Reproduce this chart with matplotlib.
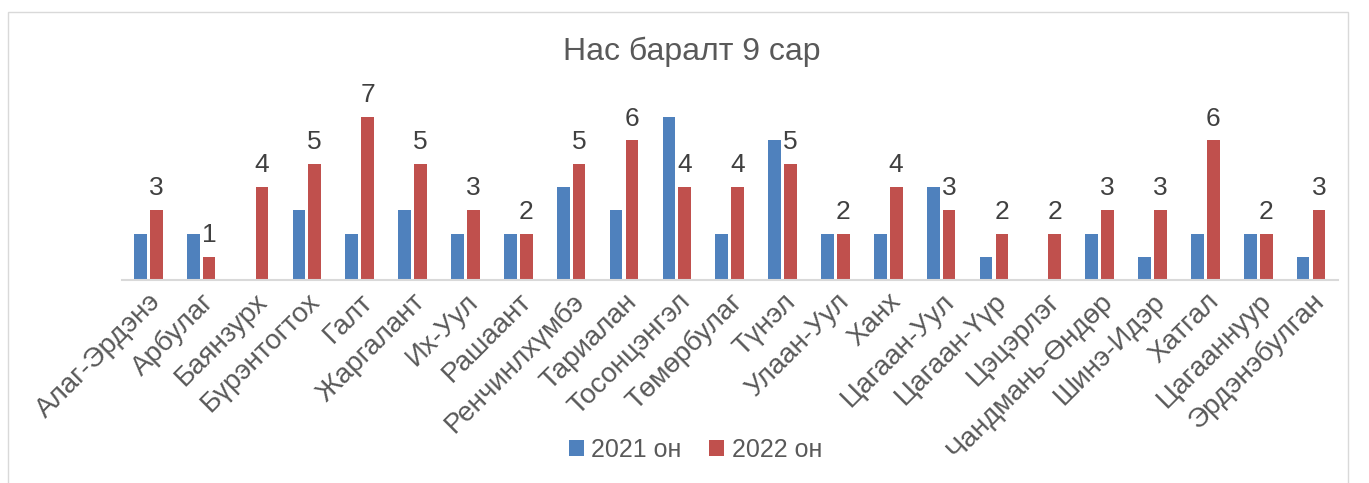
import matplotlib.pyplot as plt
import numpy as np
from matplotlib.patches import Rectangle

plt.rcParams['font.family'] = ['Liberation Sans', 'DejaVu Sans']

categories = ['Алаг-Эрдэнэ', 'Арбулаг', 'Баянзурх', 'Бүрэнтогтох', 'Галт', 'Жаргалант',
              'Их-Уул', 'Рашаант', 'Ренчинлхүмбэ', 'Тариалан', 'Тосонцэнгэл', 'Төмөрбулаг',
              'Түнэл', 'Улаан-Уул', 'Ханх', 'Цагаан-Уул', 'Цагаан-Үүр', 'Цэцэрлэг',
              'Чандмань-Өндөр', 'Шинэ-Идэр', 'Хатгал', 'Цагааннуур', 'Эрдэнэбулган']
y2021 = [2, 2, 0, 3, 2, 3, 2, 2, 4, 3, 7, 2, 6, 2, 2, 4, 1, 0, 2, 1, 2, 2, 1]
y2022 = [3, 1, 4, 5, 7, 5, 3, 2, 5, 6, 4, 4, 5, 2, 4, 3, 2, 2, 3, 3, 6, 2, 3]

fig = plt.figure(figsize=(13.69, 4.83), dpi=100)
ax = fig.add_axes([0.089, 0.42, 0.888, 0.386])

x = np.arange(len(categories))
w = 0.24
ax.bar(x - 0.15, y2021, w, color='#4F81BD', label='2021 он')
ax.bar(x + 0.15, y2022, w, color='#C0504D', label='2022 он')
for xi, v in zip(x, y2022):
    ax.text(xi + 0.15, v + 0.42, str(v), ha='center', va='bottom', fontsize=19, color='#404040')

ax.set_xlim(-0.5, len(categories) - 0.5)
ax.set_ylim(0, 8)
ax.set_yticks([])
for s in ['top', 'right', 'left']:
    ax.spines[s].set_visible(False)
ax.spines['bottom'].set_color('#d9d9d9')
ax.spines['bottom'].set_linewidth(1.5)
ax.set_xticks(x)
ax.set_xticklabels(categories, rotation=45, ha='right', rotation_mode='anchor',
                   fontsize=20, color='#595959')
ax.tick_params(axis='x', length=0, pad=6)

fig.text(0.505, 0.893, 'Нас баралт 9 сар', ha='center', va='center', fontsize=23, color='#595959')
fig.legend(loc='center', bbox_to_anchor=(0.508, 0.068), ncol=2, frameon=False, fontsize=18,
           handlelength=0.6, handleheight=0.6, handletextpad=0.3, columnspacing=1.1,
           labelcolor='#595959')
fig.patches.append(Rectangle((0.006, -0.1), 0.979, 1.075, transform=fig.transFigure,
                             fill=False, edgecolor='#d9d9d9', linewidth=1))

fig.savefig('out.png')
